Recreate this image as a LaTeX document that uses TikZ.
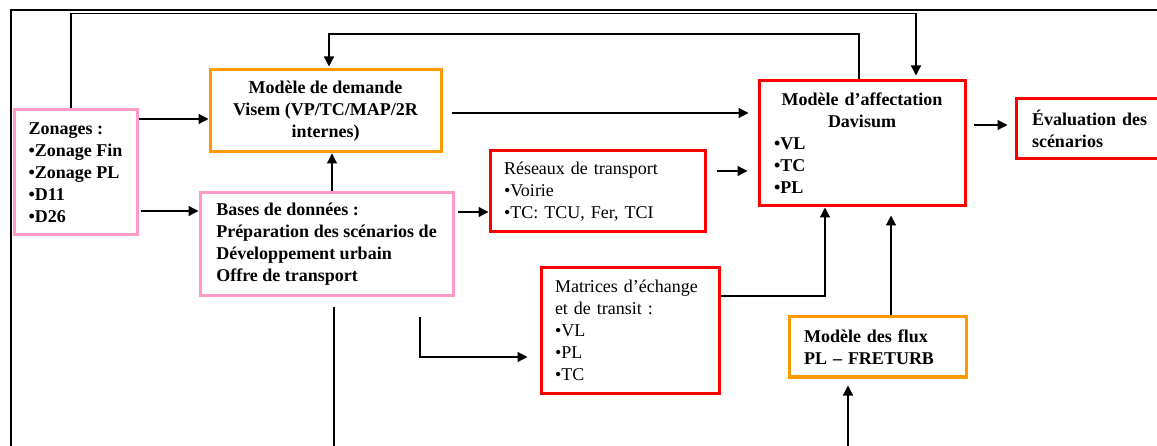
\documentclass[tikz,border=0pt]{standalone}
\usepackage{fontspec}
\setmainfont{Liberation Serif}
\usetikzlibrary{arrows.meta}
\definecolor{pinkc}{HTML}{FF99CC}
\definecolor{orangec}{HTML}{FF9900}
\definecolor{redc}{HTML}{FF0000}
\newcommand\myfs{\fontsize{18}{22}\selectfont\frenchspacing}
\begin{document}
\begin{tikzpicture}[x=1pt,y=-1pt,
  box/.style={draw, line width=3pt, inner sep=0pt, font=\myfs},
  bf/.style={font=\myfs\bfseries},
  arr/.style={line width=1.3pt, -{Triangle[length=10pt,width=10pt]}},
  ln/.style={line width=1.3pt}]
\useasboundingbox (0,0) rectangle (1157,446);
\clip (0,0) rectangle (1157,446);
% boxes
\node[box, bf, draw=pinkc, minimum width=123pt, minimum height=125pt, align=left] (zon) at (75.5,172.5)
  {Zonages :\\•Zonage Fin\\•Zonage PL\\•D11\\•D26};
\node[box, bf, draw=orangec, minimum width=231pt, minimum height=82pt, align=center] (visem) at (325.5,111)
  {Modèle de demande\\Visem (VP/TC/MAP/2R\\internes)};
\node[box, bf, draw=pinkc, minimum width=253pt, minimum height=103pt, align=left] (bases) at (326.5,244.5)
  {Bases de données :\\Préparation des scénarios de\\Développement urbain\\Offre de transport};
\node[box, draw=redc, minimum width=215pt, minimum height=81pt, text width=187pt, align=left] (res) at (597.5,191.5)
  {Réseaux de transport\\•Voirie\\•TC: TCU, Fer, TCI};
\node[box, bf, draw=redc, minimum width=206pt, minimum height=125pt, text width=176pt, align=left] (dav) at (862,143.5)
  {\makebox[\hsize]{Modèle d’affectation}\\\makebox[\hsize]{Davisum}\\•VL\\•TC\\•PL};
\node[box, bf, draw=redc, minimum width=154pt, minimum height=60pt, text width=122pt, align=left] (eval) at (1093,129)
  {Évaluation des\\scénarios};
\node[box, draw=redc, minimum width=178pt, minimum height=125pt, text width=150pt, align=left] (mat) at (630,330.5)
  {Matrices d’échange\\et de transit :\\•VL\\•PL\\•TC};
\node[box, bf, draw=orangec, minimum width=177pt, minimum height=60pt, text width=147pt, align=left] (flux) at (877.5,347)
  {Modèle des flux\\PL – FRETURB};
% helper coordinates
\coordinate (frBL) at (11,450);
\coordinate (frTL) at (11,10);
\coordinate (frTR) at (1160,10);
\coordinate (topL) at (71,13.5);
\coordinate (topR) at (916,13.5);
\coordinate (fbR) at (859,34);
\coordinate (fbL) at (329,34);
\coordinate (yZV) at (0,119);
\coordinate (yZB) at (0,211);
\coordinate (yBR) at (0,212);
\coordinate (yVD) at (0,113);
\coordinate (yRD) at (0,171);
\coordinate (yDE) at (0,125);
\coordinate (yMD) at (0,296);
\coordinate (yBM) at (0,357);
\coordinate (xBV) at (332,0);
\coordinate (xB1) at (334,0);
\coordinate (xBM) at (420,0);
\coordinate (xMD) at (825,0);
\coordinate (xFD) at (891,0);
\coordinate (xBF) at (848,0);
\coordinate (bot1) at (334,450);
\coordinate (bot2) at (848,450);
% frame
\draw[line width=2pt] (frBL) -- (frTL) -- (frTR);
% connectors
\draw[arr, shorten >=4pt] (zon.north -| topL) |- (topR) -- (dav.north -| topR);
\draw[arr, shorten >=2pt] (dav.north -| fbR) -- (fbR) -- (fbL) -- (visem.north -| fbL);
\draw[arr] (zon.east |- yZV) -- (visem.west |- yZV);
\draw[arr, shorten <=2pt] (zon.east |- yZB) -- (bases.west |- yZB);
\draw[arr] (bases.north -| xBV) -- (visem.south -| xBV);
\draw[arr, shorten <=3pt] (bases.east |- yBR) -- (res.west |- yBR);
\draw[arr, shorten <=9pt, shorten >=9pt] (visem.east |- yVD) -- (dav.west |- yVD);
\draw[arr, shorten <=10pt, shorten >=10pt] (res.east |- yRD) -- (dav.west |- yRD);
\draw[arr, shorten <=7pt, shorten >=7pt] (dav.east |- yDE) -- (eval.west |- yDE);
\draw[ln, shorten <=10pt] (bases.south -| xB1) -- (bot1);
\draw[arr, shorten <=20pt, shorten >=12pt] (bases.south -| xBM) |- (mat.west |- yBM);
\draw[arr] (mat.east |- yMD) -| (dav.south -| xMD);
\draw[arr, shorten >=8pt] (flux.north -| xFD) -- (dav.south -| xFD);
\draw[arr, shorten >=7pt] (bot2) -- (flux.south -| xBF);
\end{tikzpicture}
\end{document}
